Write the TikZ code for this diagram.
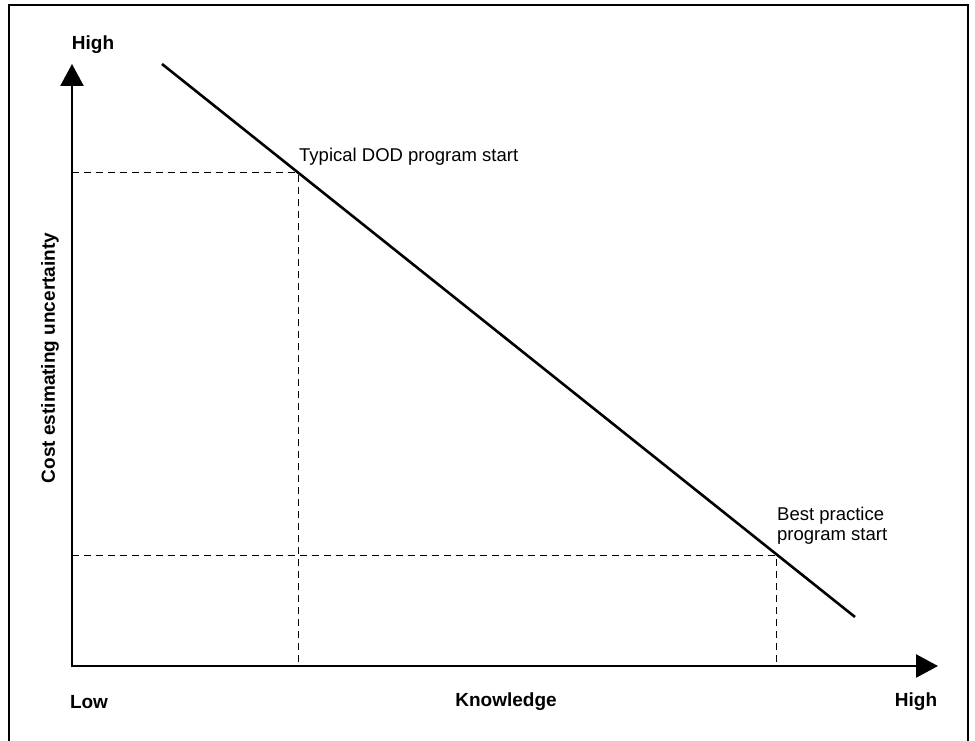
\documentclass[tikz,border=0pt]{standalone}
\usepackage{fontspec}
\setmainfont{Liberation Sans}
\usetikzlibrary{arrows.meta}
\begin{document}
\begin{tikzpicture}[x=1pt,y=-1pt,
  axis/.style={line width=2.6pt,-{Triangle[length=22pt,width=23pt]}},
  guide/.style={line width=1pt,dash pattern=on 7pt off 5pt},
  curve/.style={line width=2.6pt},
  boldlbl/.style={font=\fontsize{19}{21}\selectfont\bfseries,inner sep=0pt},
  lbl/.style={font=\fontsize{18.5}{20}\selectfont,inner sep=0pt}]
\useasboundingbox (0,0) rectangle (975,741);
\draw[line width=1.8pt] (9,741) -- (9,5) -- (968,5) -- (968,741);
\coordinate (O) at (72,666);
\coordinate (ytip) at (72,64);
\coordinate (xtip) at (938,666);
\coordinate (L1) at (162,64);
\coordinate (L2) at (855,617);
\coordinate (P1) at (298,173);
\coordinate (P2) at (776,555);
\coordinate (Y1) at (72,173);
\coordinate (Y2) at (72,555);
\coordinate (X1) at (298,666);
\coordinate (X2) at (776,666);
\draw[guide] (Y1) -- (P1) -- (X1);
\draw[guide] (Y2) -- (P2) -- (X2);
\draw[curve] (L1) -- (L2);
\draw[axis] (O) -- (ytip);
\draw[axis] (O) -- (xtip);
\draw[line width=2.6pt] (72,667.3) -- (72,664.7);
\node[boldlbl] (yhigh) at (93,45) {High};
\node[boldlbl] (xlow) at (89,702) {Low};
\node[boldlbl] (xname) at (506,702) {Knowledge};
\node[boldlbl] (xhigh) at (916,702) {High};
\node[boldlbl,rotate=90] (yname) at (50,358) {Cost estimating uncertainty};
\node[lbl,anchor=west] (t1) at (299,157) {Typical DOD program start};
\node[lbl,anchor=west,align=left] (t2) at (777,526) {Best practice\\program start};
\end{tikzpicture}
\end{document}
